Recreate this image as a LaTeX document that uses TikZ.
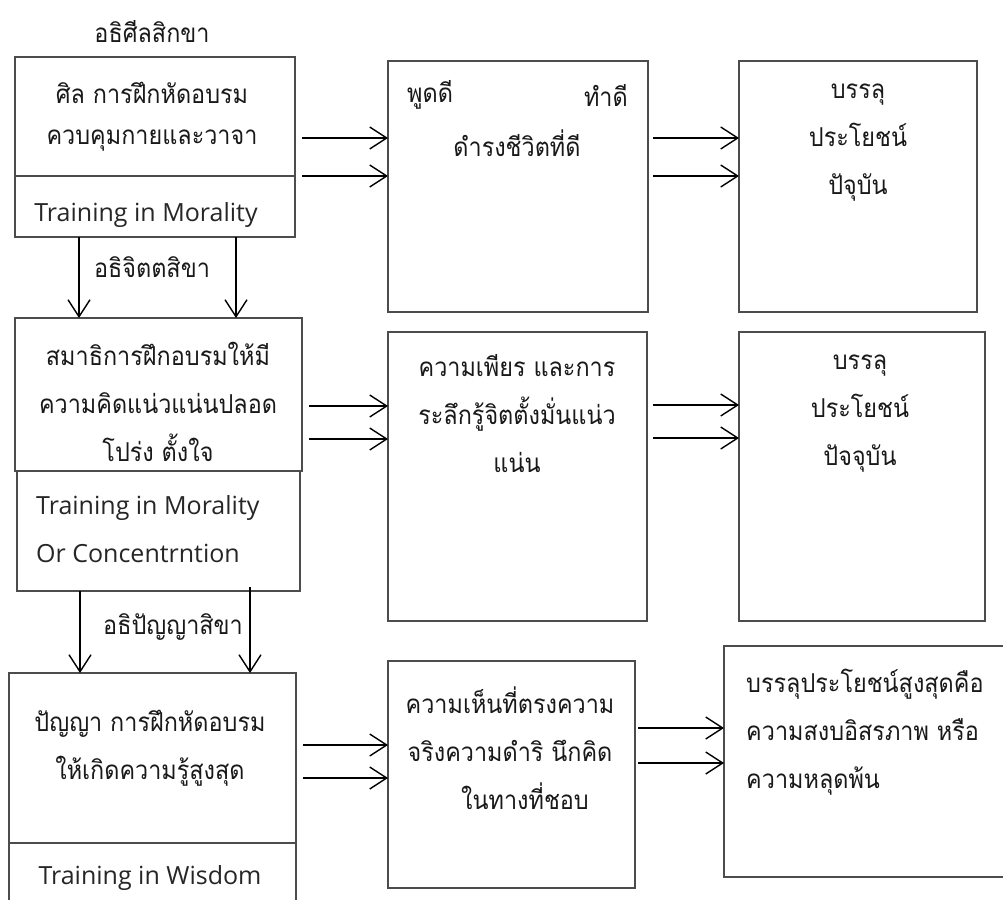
\documentclass[tikz,border=0pt]{standalone}
\usepackage{fontspec}
\setmainfont{Open Sans}
\newfontfamily\thai[Script=Thai, FakeStretch=0.9]{Loma}
\usetikzlibrary{arrows.meta}
\tikzset{
  box/.style={draw=black!70, line width=1.1pt, inner sep=0pt, outer sep=0pt, fill=none},
  arr/.style={line width=1.4pt, -{Straight Barb[length=17pt,width=22pt,line width=1.4pt]}},
  th/.style={font={\thai\fontsize{26}{48}\selectfont}, inner sep=0pt, align=center, text=black!90},
  en/.style={font={\fontsize{25}{48}\selectfont}, inner sep=0pt, align=center, text=black!85},
}
\begin{document}
\begin{tikzpicture}[x=1pt,y=-1pt]
\clip (0,0) rectangle (1003,899);
\fill[white] (0,0) rectangle (1003,899);
% boxes
\node[box, minimum width=280pt, minimum height=119pt] (b1t) at (155,116.5) {};
\node[box, minimum width=280pt, minimum height=61pt] (b1b) at (155,206.5) {};
\node[box, minimum width=287pt, minimum height=153pt] (b2t) at (158.5,394.5) {};
\node[box, minimum width=283pt, minimum height=120pt] (b2b) at (158.5,531) {};
\node[box, minimum width=287pt, minimum height=170pt] (b3t) at (152.5,758) {};
\node[box, minimum width=287pt, minimum height=87pt] (b3b) at (152.5,886.5) {};
\node[box, minimum width=260pt, minimum height=251pt] (m1) at (518,186.5) {};
\node[box, minimum width=238pt, minimum height=251pt] (r1) at (858,186.5) {};
\node[box, minimum width=259pt, minimum height=289pt] (m2) at (517.5,476.5) {};
\node[box, minimum width=246pt, minimum height=289pt] (r2) at (862,476.5) {};
\node[box, minimum width=247pt, minimum height=227pt] (m3) at (511.5,774.5) {};
\node[box, minimum width=291pt, minimum height=231pt] (r3) at (869.5,761.5) {};
% texts
\node[th] (title) at (152,32) {อธิศีลสิกขา};
\node[th, font={\thai\fontsize{26}{41}\selectfont}] (t1) at (152,117) {ศิล การฝึกหัดอบรม\\ควบคุมกายและวาจา};
\node[en] (e1) at (146,215) {Training in Morality};
\node[th] (l1) at (152,267) {อธิจิตตสิขา};
\node[th] (t2) at (158,402) {สมาธิการฝึกอบรมให้มี\\ความคิดแน่วแน่นปลอด\\โปร่ง ตั้งใจ};
\node[en, anchor=west, align=left] (e2) at (36,529) {Training in Morality\\Or Concentrntion};
\node[th] (l2) at (173,627) {อธิปัญญาสิขา};
\node[th] (t3) at (150,748) {ปัญญา การฝึกหัดอบรม\\ให้เกิดความรู้สูงสุด};
\node[en] (e3) at (150,878) {Training in Wisdom};
\node[th, anchor=west] (m1a) at (407,95) {พูดดี};
\node[th, anchor=east] (m1b) at (628,95) {ทำดี};
\node[th] (m1c) at (517,143) {ดำรงชีวิตที่ดี};
\node[th] (r1t) at (858,143) {บรรลุ\\ประโยชน์\\ปัจุบัน};
\node[th] (m2t) at (517,414) {ความเพียร และการ\\ระลึกรู้จิตตั้งมั่นแน่ว\\แน่น};
\node[th] (r2t) at (860,414) {บรรลุ\\ประโยชน์\\ปัจจุบัน};
\node[th] (m3t) at (510,748) {ความเห็นที่ตรงความ\\จริงความดำริ นึกคิด\\\hspace*{30pt}ในทางที่ชอบ};
\node[th, anchor=west, align=left] (r3t) at (746,732) {บรรลุประโยชน์สูงสุดคือ\\ความสงบอิสรภาพ หรือ\\ความหลุดพ้น};
% arrows row 1
\draw[arr] ([xshift=7pt]b1t.east |- 0,138) -- (m1.west |- 0,138);
\draw[arr] ([xshift=7pt]b1t.east |- 0,176) -- (m1.west |- 0,176);
\draw[arr] ([xshift=5pt]m1.east |- 0,138) -- (r1.west |- 0,138);
\draw[arr] ([xshift=5pt]m1.east |- 0,176) -- (r1.west |- 0,176);
% arrows row 2
\draw[arr] ([xshift=7pt]b2t.east |- 0,406) -- (m2.west |- 0,406);
\draw[arr] ([xshift=7pt]b2t.east |- 0,439) -- (m2.west |- 0,439);
\draw[arr] ([xshift=6pt]m2.east |- 0,405) -- (r2.west |- 0,405);
\draw[arr] ([xshift=6pt]m2.east |- 0,438) -- (r2.west |- 0,438);
% arrows row 3
\draw[arr] ([xshift=7pt]b3t.east |- 0,745) -- (m3.west |- 0,745);
\draw[arr] ([xshift=7pt]b3t.east |- 0,778) -- (m3.west |- 0,778);
\draw[arr] ([xshift=3pt]m3.east |- 0,728) -- (r3.west |- 0,728);
\draw[arr] ([xshift=3pt]m3.east |- 0,763) -- (r3.west |- 0,763);
% down arrows
\draw[arr] (79,0 |- b1b.south) -- (79,0 |- b2t.north);
\draw[arr] (236,0 |- b1b.south) -- (236,0 |- b2t.north);
\draw[arr] (80,0 |- b2b.south) -- (80,0 |- b3t.north);
\draw[arr] ([yshift=4pt]250,0 |- b2b.south) -- (250,0 |- b3t.north);
\end{tikzpicture}
\end{document}
